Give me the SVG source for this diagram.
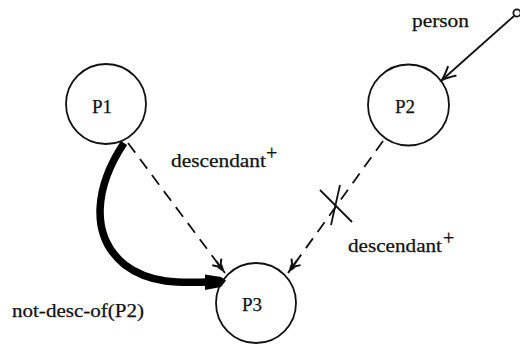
<svg xmlns="http://www.w3.org/2000/svg" width="520" height="345" viewBox="0 0 520 345">
  <style>
    .node { fill: none; stroke: #111; stroke-width: 1.8; }
    .lbl { font-family: "Liberation Serif", "Times New Roman", serif; font-size: 19px; fill: #111; stroke: #111; stroke-width: 0.25; }
    .sup { font-family: "Liberation Serif", "Times New Roman", serif; font-size: 20px; fill: #111; stroke: #111; stroke-width: 0.3; }
    .dash { fill: none; stroke: #111; stroke-width: 1.8; stroke-dasharray: 12 8; }
    .solid { fill: none; stroke: #111; stroke-width: 1.8; }
  </style>
  <defs>
    <!-- three-pronged arrowhead for the descendant edges -->
    <marker id="fork" markerUnits="userSpaceOnUse" markerWidth="20" markerHeight="20" refX="0" refY="0" orient="auto" overflow="visible" viewBox="-14 -7 16 14">
      <path d="M0,0 L-7,-2.4 L-7,2.4 Z" fill="#111"/>
      <path d="M-6,0 L-11,-4.5 M-6,0 L-12,0 M-6,0 L-11,4.5" stroke="#111" stroke-width="1.6" fill="none"/>
    </marker>
    <!-- curved open arrowhead -->
    <marker id="open" markerUnits="userSpaceOnUse" markerWidth="20" markerHeight="20" refX="0" refY="0" orient="auto" overflow="visible" viewBox="-14 -7 16 14">
      <path d="M-11,-5 Q-4,-1.2 0,0 Q-4,1.2 -11,5" stroke="#111" stroke-width="1.6" fill="none"/>
    </marker>
  </defs>

  <g id="connectors">
    <!-- person -> P2 -->
    <circle cx="517" cy="13" r="3.6" class="solid" fill="#fff"/>
    <line x1="514" y1="16" x2="442" y2="80" class="solid" marker-end="url(#open)"/>
    <!-- P1 -> P3 descendant+ -->
    <line x1="128" y1="143" x2="225" y2="273" class="dash" marker-end="url(#fork)"/>
    <!-- P2 -> P3 descendant+ (crossed out) -->
    <line x1="383" y1="141" x2="288" y2="273" class="dash" marker-end="url(#fork)"/>
    <line x1="320" y1="190" x2="352" y2="222" class="solid"/>
    <line x1="340" y1="185" x2="331" y2="225" class="solid"/>
    <!-- not-desc-of(P2) : thick curved edge P1 -> P3 -->
    <path d="M124,143 C96,185 88,235 125,265 C150,284 180,283 210,282" fill="none" stroke="#000" stroke-width="7.5"/>
    <path d="M205,274.5 L221,277 L226,280.5 L221,287 L205,290 Z" fill="#000"/>
  </g>

  <g id="P1">
    <circle cx="106" cy="104" r="40" class="node"/>
    <text x="102" y="113" text-anchor="middle" class="lbl">P1</text>
  </g>
  <g id="P2">
    <circle cx="408.5" cy="105" r="40.5" class="node"/>
    <text x="405" y="113" text-anchor="middle" class="lbl">P2</text>
  </g>
  <g id="P3">
    <circle cx="256" cy="303" r="40" class="node"/>
    <text x="252" y="311" text-anchor="middle" class="lbl">P3</text>
  </g>

  <g id="labels">
    <text x="412" y="27" class="lbl" textLength="57" lengthAdjust="spacingAndGlyphs">person</text>
    <text x="171" y="167" class="lbl" textLength="95" lengthAdjust="spacingAndGlyphs">descendant</text>
    <text x="266" y="160" class="sup">+</text>
    <text x="348" y="252" class="lbl" textLength="94" lengthAdjust="spacingAndGlyphs">descendant</text>
    <text x="443" y="245" class="sup">+</text>
    <text x="12" y="317" class="lbl" textLength="132" lengthAdjust="spacingAndGlyphs">not-desc-of(P2)</text>
  </g>
</svg>
